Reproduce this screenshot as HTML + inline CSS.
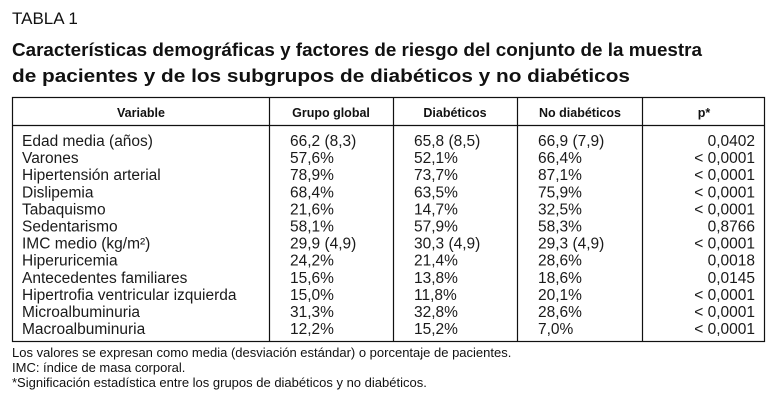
<!DOCTYPE html>
<html><head><meta charset="utf-8"><style>
html,body{margin:0;padding:0;background:#fff;}
svg{display:block;font-family:"Liberation Sans",sans-serif;}
</style></head><body>
<svg width="775" height="400" viewBox="0 0 775 400">
<text x="12" y="24" font-size="17" fill="#111">TABLA 1</text>
<text x="12" y="56" font-size="18" font-weight="bold" fill="#111" textLength="690" lengthAdjust="spacingAndGlyphs">Características demográficas y factores de riesgo del conjunto de la muestra</text>
<text x="12" y="82" font-size="18" font-weight="bold" fill="#111" textLength="618" lengthAdjust="spacingAndGlyphs">de pacientes y de los subgrupos de diabéticos y no diabéticos</text>
<g stroke="#111" stroke-width="1.2" fill="none">
<rect x="12.5" y="97.5" width="752" height="244"/>
<line x1="12.5" y1="125.5" x2="764.5" y2="125.5"/>
<line x1="269.5" y1="97.5" x2="269.5" y2="341.5"/>
<line x1="393.5" y1="97.5" x2="393.5" y2="341.5"/>
<line x1="517.5" y1="97.5" x2="517.5" y2="341.5"/>
<line x1="642.5" y1="97.5" x2="642.5" y2="341.5"/>
</g>
<g font-size="12.5" font-weight="bold" fill="#111" text-anchor="middle">
<text x="141" y="117">Variable</text>
<text x="331" y="117">Grupo global</text>
<text x="455" y="117">Diabéticos</text>
<text x="580" y="117">No diabéticos</text>
<text x="704" y="117">p*</text>
</g>
<g id="rows" font-size="15.5" fill="#1a1a1a"></g>
<g font-size="13" fill="#111">
<text x="12" y="357">Los valores se expresan como media (desviación estándar) o porcentaje de pacientes.</text>
<text x="12" y="372">IMC: índice de masa corporal.</text>
<text x="12" y="387">*Significación estadística entre los grupos de diabéticos y no diabéticos.</text>
</g>
</svg>
<script>
const variables=["Edad media (años)","Varones","Hipertensión arterial","Dislipemia","Tabaquismo","Sedentarismo","IMC medio (kg/m²)","Hiperuricemia","Antecedentes familiares","Hipertrofia ventricular izquierda","Microalbuminuria","Macroalbuminuria"];
const global=["66,2 (8,3)","57,6%","78,9%","68,4%","21,6%","58,1%","29,9 (4,9)","24,2%","15,6%","15,0%","31,3%","12,2%"];
const diab=["65,8 (8,5)","52,1%","73,7%","63,5%","14,7%","57,9%","30,3 (4,9)","21,4%","13,8%","11,8%","32,8%","15,2%"];
const nodiab=["66,9 (7,9)","66,4%","87,1%","75,9%","32,5%","58,3%","29,3 (4,9)","28,6%","18,6%","20,1%","28,6%","7,0%"];
const pvals=["0,0402","< 0,0001","< 0,0001","< 0,0001","< 0,0001","0,8766","< 0,0001","0,0018","0,0145","< 0,0001","< 0,0001","< 0,0001"];
const g=document.getElementById('rows');
const NS="http://www.w3.org/2000/svg";
function addText(x,y,txt,anchor,name){
  const t=document.createElementNS(NS,'text');
  t.setAttribute('x',x);t.setAttribute('y',y);
  if(anchor)t.setAttribute('text-anchor',anchor);
  t.textContent=txt;
  
  
  g.appendChild(t);
}
variables.forEach((v,i)=>{
  const y=146+i*17.1;
  addText(22,y,v,null,'cell-variable');
  addText(290,y,global[i],null,'cell-grupo-global');
  addText(414,y,diab[i],null,'cell-diabeticos');
  addText(538,y,nodiab[i],'start','cell-no-diabeticos');
  addText(755,y,pvals[i],'end','cell-p-value');
});
</script>
</body></html>
